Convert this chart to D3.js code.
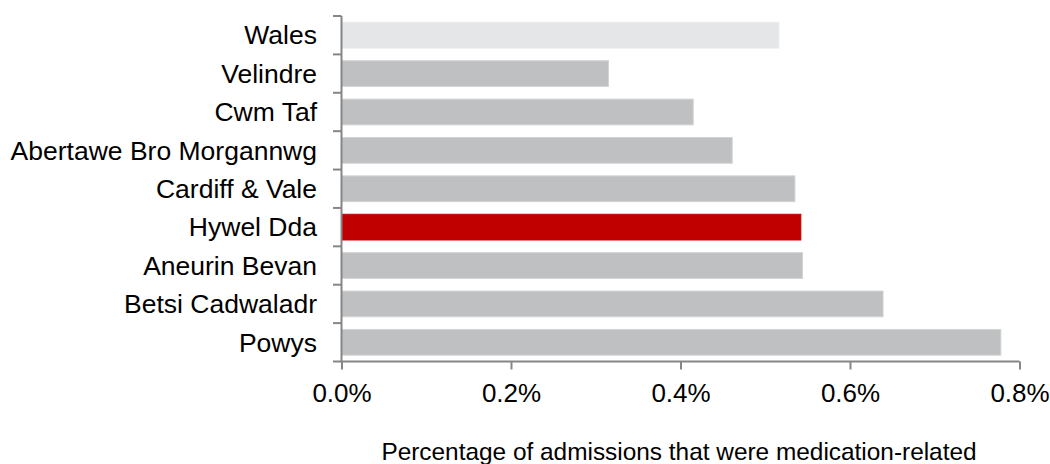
<!DOCTYPE html>
<html>
<head>
<meta charset="utf-8">
<script src="https://cdn.jsdelivr.net/npm/d3@7"></script>
<style>
  body { margin: 0; background: #fff; }
  svg { display: block; font-family: "Liberation Sans", Arial, sans-serif; }
</style>
</head>
<body>
<svg id="chart" width="1050" height="464"></svg>
<script>
const categories = ["Wales", "Velindre", "Cwm Taf", "Abertawe Bro Morgannwg", "Cardiff & Vale", "Hywel Dda", "Aneurin Bevan", "Betsi Cadwaladr", "Powys"];
const values = [0.516, 0.315, 0.415, 0.461, 0.535, 0.542, 0.544, 0.639, 0.778];
const tickValues = [0, 0.2, 0.4, 0.6, 0.8];
const highlight = "Hywel Dda";
const reference = "Wales";
const axisTitle = "Percentage of admissions that were medication-related";

const svg = d3.select("#chart");
const x = d3.scaleLinear().domain([0, 0.8]).range([341.5, 1019.5]);
const y = d3.scaleBand().domain(categories).range([16, 361.5]).paddingInner(0.33).paddingOuter(0.165);

const axisColor = "#868686";

svg.append("g").selectAll("rect").data(categories).join("rect")
  .attr("x", x(0))
  .attr("y", d => y(d))
  .attr("width", (d, i) => x(values[i]) - x(0))
  .attr("height", y.bandwidth())
  .attr("fill", d => d === highlight ? "#c00000" : (d === reference ? "#e5e6e8" : "#bfc0c2"))
  .attr("stroke", d => d === highlight ? "#c00000" : (d === reference ? "#e8e9eb" : "#d2d3d5"))
  .attr("stroke-width", 1);

// Y axis: ticks at band boundaries
const yAxisG = svg.append("g");
const bounds = d3.range(categories.length + 1).map(i => 16 + i * (345.5 / categories.length));
yAxisG.append("line").attr("x1", 341.5).attr("x2", 341.5).attr("y1", 16).attr("y2", 362.5)
  .attr("stroke", axisColor).attr("stroke-width", 2);
yAxisG.selectAll("line.t").data(bounds).join("line").attr("class", "t")
  .attr("x1", 333).attr("x2", 341.5).attr("y1", d => d).attr("y2", d => d)
  .attr("stroke", axisColor).attr("stroke-width", 2);
yAxisG.selectAll("text").data(categories).join("text")
  .attr("x", 317).attr("y", d => y(d) + y.bandwidth() / 2)
  .attr("dy", "0.35em").attr("text-anchor", "end")
  .attr("font-size", 26.5).attr("fill", "#000").text(d => d);

// X axis
const xAxis = d3.axisBottom(x).tickValues(tickValues).tickSize(8).tickPadding(14)
  .tickFormat(d => d3.format(".1f")(d) + "%");
const xg = svg.append("g").attr("transform", "translate(0,361.5)").call(xAxis);
xg.select(".domain").attr("stroke", axisColor).attr("stroke-width", 2)
  .attr("d", `M${x(0)},0H${x(0.8)}`);
xg.selectAll(".tick line").attr("stroke", axisColor).attr("stroke-width", 2);
xg.selectAll(".tick text").attr("font-size", 26).attr("fill", "#000")
  .attr("font-family", "Liberation Sans, Arial, sans-serif");

svg.append("text").attr("x", 679).attr("y", 460)
  .attr("text-anchor", "middle").attr("font-size", 24.4).attr("fill", "#000")
  .text(axisTitle);
</script>
</body>
</html>
